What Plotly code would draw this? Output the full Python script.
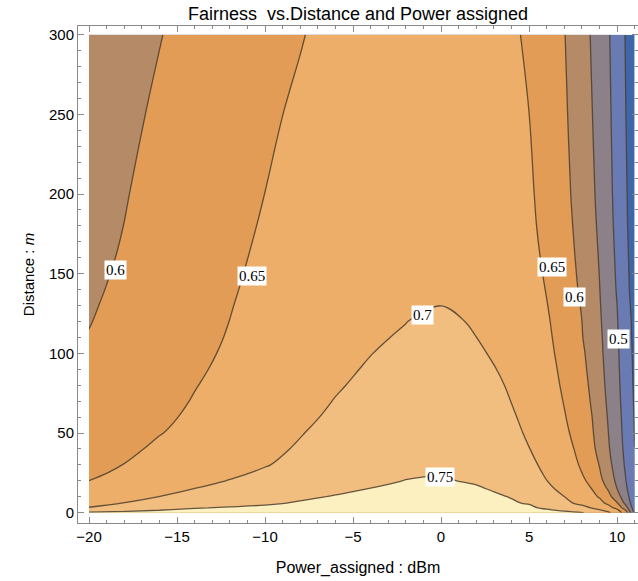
import plotly.graph_objects as go

# ---- data ----
power_dbm = [-20, -18, -16, -14, -12, -10, -8, -6, -4, -2, 0, 2, 4, 5, 6, 7, 8, 9, 9.5, 10, 10.5, 11]
distance_m = [0, 3, 6, 10, 15, 20, 25, 30, 40, 50, 60, 70, 80, 90, 100, 110, 120, 130, 140, 160, 180, 200, 250, 300]

fair_d0 = [0.756, 0.762, 0.768, 0.771, 0.774, 0.776, 0.778, 0.780, 0.781, 0.782, 0.782, 0.781, 0.778, 0.774, 0.768, 0.761, 0.7527, 0.7233, 0.7067, 0.6786, 0.625, 0.486]
fair_d3 = [0.7023, 0.7172, 0.7321, 0.7470, 0.7548, 0.758, 0.761, 0.764, 0.766, 0.767, 0.768, 0.767, 0.763, 0.756, 0.7439, 0.7263, 0.7139, 0.6861, 0.6643, 0.6389, 0.570, 0.470]
fair_d6 = [0.6838, 0.7011, 0.7118, 0.7226, 0.7334, 0.7441, 0.7536, 0.757, 0.760, 0.762, 0.763, 0.762, 0.7529, 0.7476, 0.7293, 0.711, 0.6889, 0.6611, 0.6423, 0.6038, 0.5361, 0.4667]
fair_d10 = [0.6688, 0.6848, 0.7005, 0.7111, 0.7217, 0.7323, 0.7428, 0.7526, 0.756, 0.759, 0.760, 0.759, 0.7487, 0.7308, 0.7154, 0.7002, 0.6744, 0.6469, 0.6156, 0.5722, 0.5181, 0.4637]
fair_d15 = [0.6558, 0.6708, 0.6858, 0.7005, 0.7106, 0.7206, 0.7307, 0.7407, 0.7508, 0.755, 0.7575, 0.757, 0.7318, 0.7188, 0.7058, 0.6929, 0.6806, 0.6250, 0.5955, 0.5502, 0.5069, 0.4622]
fair_d20 = [0.6502, 0.663, 0.676, 0.689, 0.7015, 0.7114, 0.7213, 0.7312, 0.7411, 0.751, 0.756, 0.7426, 0.7216, 0.7110, 0.7005, 0.6782, 0.6613, 0.6123, 0.5798, 0.5398, 0.5008, 0.4584]
fair_d25 = [0.641, 0.6581, 0.6688, 0.6809, 0.6930, 0.7051, 0.716, 0.727, 0.737, 0.744, 0.746, 0.745, 0.7389, 0.7167, 0.6944, 0.6722, 0.6502, 0.6045, 0.5706, 0.5338, 0.4968, 0.4568]
fair_d30 = [0.6343, 0.6508, 0.6638, 0.6756, 0.6873, 0.6979, 0.7111, 0.722, 0.731, 0.738, 0.742, 0.742, 0.7323, 0.7108, 0.6892, 0.6677, 0.6461, 0.5986, 0.5639, 0.5292, 0.4933, 0.4517]
fair_d40 = [0.6256, 0.6416, 0.6569, 0.6677, 0.6797, 0.6916, 0.7036, 0.715, 0.725, 0.732, 0.737, 0.738, 0.721, 0.701, 0.681, 0.661, 0.641, 0.5872, 0.5551, 0.5227, 0.4885, 0.4502]
fair_d50 = [0.6185, 0.6335, 0.6485, 0.6612, 0.6736, 0.6860, 0.6984, 0.7109, 0.721, 0.729, 0.733, 0.736, 0.7123, 0.6934, 0.6745, 0.6557, 0.6367, 0.5811, 0.5506, 0.5190, 0.4853, 0.4485]
fair_d60 = [0.615, 0.629, 0.643, 0.6562, 0.6685, 0.6809, 0.6932, 0.7056, 0.717, 0.726, 0.730, 0.735, 0.7054, 0.6875, 0.6696, 0.6518, 0.6338, 0.5759, 0.5469, 0.5160, 0.4829, 0.4471]
fair_d70 = [0.611, 0.6248, 0.6386, 0.6521, 0.6644, 0.6767, 0.6889, 0.7012, 0.713, 0.722, 0.728, 0.7328, 0.6992, 0.6823, 0.6655, 0.6487, 0.6258, 0.5709, 0.5429, 0.5131, 0.4803, 0.4451]
fair_d80 = [0.6078, 0.6214, 0.6350, 0.6486, 0.6608, 0.6729, 0.6849, 0.6970, 0.7071, 0.720, 0.727, 0.7252, 0.6937, 0.6778, 0.6619, 0.6460, 0.6195, 0.5668, 0.5395, 0.5105, 0.4778, 0.4431]
fair_d90 = [0.6056, 0.6188, 0.6320, 0.6452, 0.6575, 0.6693, 0.6811, 0.6929, 0.7034, 0.714, 0.718, 0.7166, 0.6877, 0.6732, 0.6587, 0.6442, 0.6135, 0.5635, 0.5369, 0.5085, 0.4760, 0.4418]
fair_d100 = [0.6033, 0.6163, 0.6293, 0.6423, 0.6546, 0.6658, 0.6770, 0.6883, 0.6995, 0.7059, 0.710, 0.7078, 0.6818, 0.6688, 0.6558, 0.6429, 0.6086, 0.5606, 0.5344, 0.5067, 0.4743, 0.4405]
fair_d110 = [0.6015, 0.6143, 0.6271, 0.6399, 0.6522, 0.6627, 0.6732, 0.6837, 0.6942, 0.7047, 0.712, 0.7002, 0.6772, 0.6655, 0.6537, 0.6421, 0.6025, 0.5583, 0.5324, 0.5049, 0.4723, 0.4385]
fair_d120 = [0.5987, 0.6116, 0.6246, 0.6375, 0.6503, 0.6601, 0.6699, 0.6797, 0.6895, 0.6992, 0.7139, 0.6933, 0.6727, 0.6624, 0.6521, 0.6416, 0.6002, 0.5558, 0.5299, 0.5027, 0.4700, 0.4367]
fair_d130 = [0.5964, 0.6094, 0.6224, 0.6353, 0.6483, 0.6636, 0.6766, 0.6868, 0.6940, 0.6984, 0.6998, 0.6944, 0.6782, 0.6660, 0.6511, 0.6340, 0.5966, 0.5535, 0.5272, 0.5002, 0.4667, 0.4333]
fair_d140 = [0.5941, 0.6072, 0.6202, 0.6332, 0.6462, 0.6612, 0.6745, 0.6848, 0.6921, 0.6965, 0.698, 0.6926, 0.6763, 0.6641, 0.6487, 0.6224, 0.5936, 0.5513, 0.5245, 0.4967, 0.4633, 0.4300]
fair_d160 = [0.5902, 0.6033, 0.6164, 0.6295, 0.6426, 0.6570, 0.6709, 0.6816, 0.6893, 0.6940, 0.6955, 0.6900, 0.6735, 0.6611, 0.6437, 0.6183, 0.5886, 0.5473, 0.5204, 0.4922, 0.4597, 0.4273]
fair_d180 = [0.5872, 0.6003, 0.6134, 0.6265, 0.6396, 0.6533, 0.6678, 0.6790, 0.6871, 0.6919, 0.6935, 0.6879, 0.6709, 0.6582, 0.6390, 0.6146, 0.5843, 0.5431, 0.5165, 0.4880, 0.4563, 0.4247]
fair_d200 = [0.5851, 0.5981, 0.6110, 0.6240, 0.6370, 0.6502, 0.6651, 0.6769, 0.6853, 0.6903, 0.692, 0.6862, 0.6690, 0.6560, 0.6356, 0.6115, 0.5803, 0.5396, 0.5135, 0.4852, 0.4543, 0.4235]
fair_d250 = [0.5799, 0.5925, 0.6050, 0.6176, 0.6302, 0.6428, 0.6569, 0.6705, 0.6802, 0.6861, 0.688, 0.6819, 0.6637, 0.6502, 0.6281, 0.6061, 0.5743, 0.5340, 0.5090, 0.4805, 0.4502, 0.4195]
fair_d300 = [0.5743, 0.5865, 0.5988, 0.6110, 0.6233, 0.6355, 0.6477, 0.6634, 0.6754, 0.6826, 0.685, 0.6784, 0.6585, 0.6419, 0.6218, 0.6016, 0.5689, 0.5288, 0.5048, 0.4765, 0.4471, 0.4176]

fairness = [fair_d0, fair_d3, fair_d6, fair_d10, fair_d15, fair_d20, fair_d25, fair_d30,
            fair_d40, fair_d50, fair_d60, fair_d70, fair_d80, fair_d90, fair_d100,
            fair_d110, fair_d120, fair_d130, fair_d140, fair_d160, fair_d180,
            fair_d200, fair_d250, fair_d300]

contour_levels = [0.45, 0.5, 0.55, 0.6, 0.65, 0.7, 0.75]

label_texts = ["0.6", "0.65", "0.7", "0.75", "0.65", "0.6", "0.5"]
label_power = [-18.52, -10.76, -1.07, -0.07, 6.3, 7.6, 10.11]
label_dist = [152.3, 148.7, 124.1, 22.1, 153.9, 135.6, 109.0]

# ---- styling ----
band_colors = ["#3F66A8", "#6A7BB3", "#8C8089", "#B48A67",
               "#E39C55", "#ECAE68", "#F2BE80", "#FDF0C0"]
n = len(band_colors) - 1
colorscale = []
for k, c in enumerate(band_colors):
    lo = max(0.0, k / n - 0.5 / n)
    hi = min(1.0, k / n + 0.5 / n)
    colorscale.append([lo, c])
    colorscale.append([hi, c])

step = contour_levels[1] - contour_levels[0]

fig = go.Figure()
fig.add_trace(go.Contour(
    x=power_dbm, y=distance_m, z=fairness,
    contours=dict(start=contour_levels[0], end=contour_levels[-1], size=step,
                  coloring="fill", showlabels=False),
    colorscale=colorscale, showscale=False,
    line=dict(color="rgba(75,62,45,0.85)", width=1.3, smoothing=1.0),
    hoverinfo="skip",
))

for t, px, py in zip(label_texts, label_power, label_dist):
    fig.add_annotation(x=px, y=py, text=t, showarrow=False,
                       font=dict(family="Liberation Serif", size=15, color="black"),
                       bgcolor="white", borderpad=1)

axis_common = dict(
    showgrid=False, zeroline=False, showline=True, linecolor="#8a8a8a", linewidth=1,
    mirror="ticks", ticks="inside", ticklen=6, tickcolor="#8a8a8a",
    tickfont=dict(family="Liberation Sans", size=15, color="black"),
)

fig.update_layout(
    width=638, height=581,
    margin=dict(l=78, r=0, t=26, b=58),
    paper_bgcolor="white", plot_bgcolor="white",
    title=dict(text="Fairness  vs.Distance and Power assigned",
               x=0.5, xref="paper", y=1 - 14 / 581, yref="container", yanchor="middle",
               font=dict(family="Liberation Sans", size=18, color="black")),
    xaxis=dict(range=[-20.625, 11.19], dtick=5, tick0=0,
               minor=dict(dtick=1, ticks="inside", ticklen=3, tickcolor="#8a8a8a"),
               title=dict(text="Power_assigned : dBm", standoff=17,
                          font=dict(family="Liberation Sans", size=16, color="black")),
               **axis_common),
    yaxis=dict(range=[-6.5, 305.5], dtick=50, tick0=0,
               minor=dict(dtick=10, ticks="inside", ticklen=3, tickcolor="#8a8a8a"),
               title=dict(text="Distance : <i>m</i>", standoff=10,
                          font=dict(family="Liberation Sans", size=15, color="black")),
               **axis_common),
)

fig.write_html("out.html")
